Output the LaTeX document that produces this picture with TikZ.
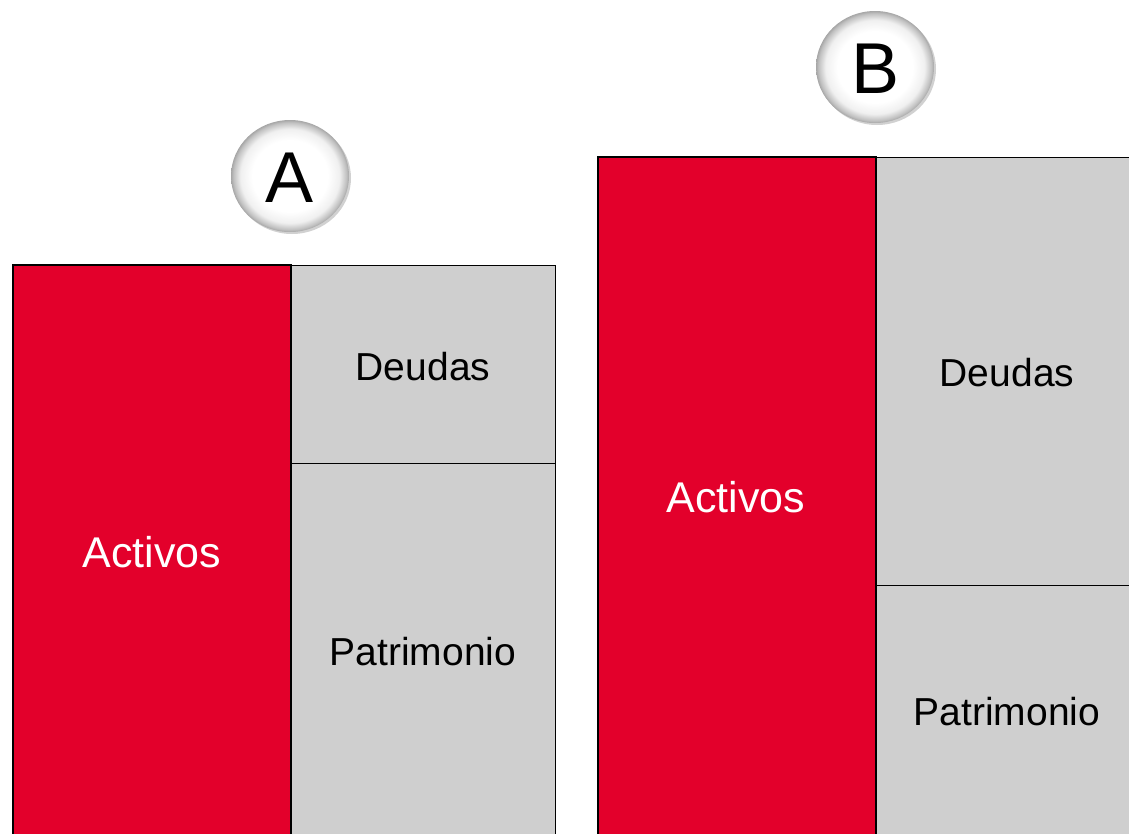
\documentclass[tikz,border=0pt]{standalone}
\usepackage{fontspec}
\setmainfont{Liberation Sans}
\definecolor{actred}{HTML}{E3002B}
\definecolor{boxgray}{HTML}{CFCFCF}
\pgfdeclareradialshading{btnshade}{\pgfpoint{0bp}{0bp}}{color(0bp)=(white); color(16bp)=(white); color(21bp)=(black!6); color(24bp)=(black!25); color(25bp)=(black!35); color(50bp)=(black!35)}
\tikzset{
  redbox/.style={draw=black, line width=1.2pt, fill=actred},
  graybox/.style={draw=black, line width=1pt, fill=boxgray},
  lbl/.style={font=\fontsize{39}{39}\selectfont},
  wlbl/.style={font=\fontsize{43}{43}\selectfont, text=white},
  btn/.style={ellipse, minimum width=118pt, minimum height=112pt, shading=btnshade, inner sep=0pt},
  btnlbl/.style={font=\fontsize{72}{72}\selectfont},
  btnshadow/.style={fill=black!18},
}
\usetikzlibrary{shapes.geometric}
\begin{document}
\begin{tikzpicture}[x=1pt,y=-1pt]
\useasboundingbox (0,0) rectangle (1129,833);
\begin{scope}
\clip (0,0) rectangle (1129,833);
% Balance A
\draw[redbox] (13,265) rectangle (291,840);
\draw[graybox] (291,265) rectangle (555,463);
\draw[graybox] (291,463) rectangle (555,840);
\node[wlbl] (aact) at (152,552) {Activos};
\node[lbl] (adeu) at (423,367) {Deudas};
\node[lbl] (apat) at (423,652) {Patrimonio};
% Balance B
\draw[redbox] (598,157) rectangle (876,840);
\draw[graybox] (876,157) rectangle (1140,585);
\draw[graybox] (876,585) rectangle (1140,840);
\node[wlbl] (bact) at (736,497) {Activos};
\node[lbl] (bdeu) at (1007,373) {Deudas};
\node[lbl] (bpat) at (1007,712) {Patrimonio};
\end{scope}
% Buttons
\fill[btnshadow] (292,178) ellipse (59 and 56);
\node[btn] (labA) at (290,176) {};
\node[btnlbl] (tA) at (290,178) {A};
\fill[btnshadow] (877,69) ellipse (59 and 56);
\node[btn] (labB) at (875,67) {};
\node[btnlbl] (tB) at (875,69) {B};
\end{tikzpicture}
\end{document}
